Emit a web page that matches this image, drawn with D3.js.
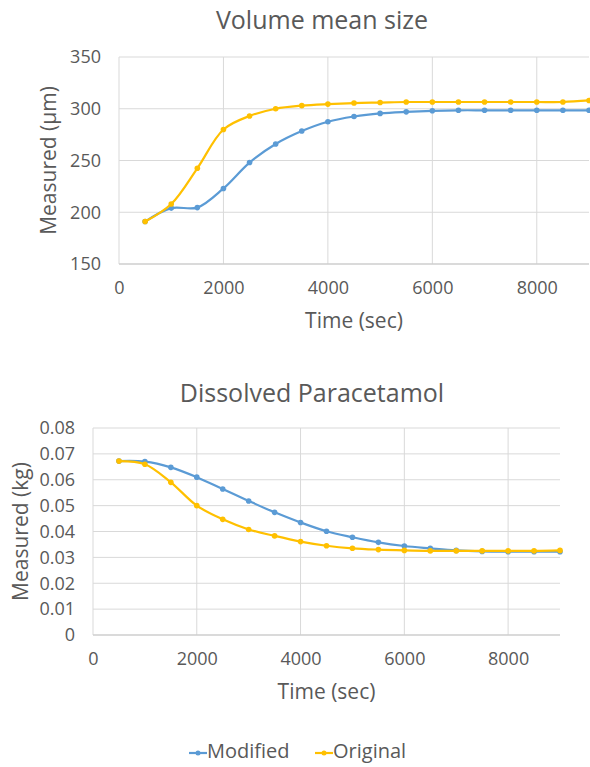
<!DOCTYPE html>
<html>
<head>
<meta charset="utf-8">
<script src="https://cdn.jsdelivr.net/npm/d3@7"></script>
<style>
  body { margin: 0; background: #fff; }
  svg text { font-family: "Open Sans", sans-serif; fill: #595959; }
  .axis path, .axis line { display: none; }
</style>
</head>
<body>
<svg id="chart" width="590" height="767"></svg>
<script>
const times = [500, 1000, 1500, 2000, 2500, 3000, 3500, 4000, 4500,
  5000, 5500, 6000, 6500, 7000, 7500, 8000, 8500, 9000];

const sizeModified = [191, 204, 204.5, 223, 248, 266, 278.5, 287.5, 292.5,
  295.5, 297, 298, 298.5, 298.5, 298.5, 298.5, 298.5, 298.5];
const sizeOriginal = [191, 208, 242.5, 280, 293, 300, 303, 304.5, 305.5,
  306, 306.5, 306.5, 306.5, 306.5, 306.5, 306.5, 306.5, 308];

const paraModified = [0.0672, 0.067, 0.0648, 0.061, 0.0564, 0.0518, 0.0474, 0.0435, 0.0401,
  0.0378, 0.0358, 0.0344, 0.0335, 0.0327, 0.0323, 0.0322, 0.0322, 0.0322];
const paraOriginal = [0.0672, 0.066, 0.059, 0.050, 0.0447, 0.0408, 0.0383, 0.0361, 0.0345,
  0.0335, 0.033, 0.0327, 0.0325, 0.0325, 0.0325, 0.0325, 0.0325, 0.0327];

const xTicks = [0, 2000, 4000, 6000, 8000];
const sizeTicks = [150, 200, 250, 300, 350];
const paraTicks = [0, 0.01, 0.02, 0.03, 0.04, 0.05, 0.06, 0.07, 0.08];

const colors = { Modified: "#5b9bd5", Original: "#ffc000" };

const svg = d3.select("#chart");

function drawPanel(opt) {
  const x = d3.scaleLinear().domain([0, 9000]).range([opt.left, opt.right]);
  const y = d3.scaleLinear().domain(opt.yDomain).range([opt.bottom, opt.top]);
  const g = svg.append("g");

  // grid
  g.selectAll(".hgrid").data(opt.yTicks).enter().append("line")
    .attr("x1", opt.left).attr("x2", opt.right)
    .attr("y1", d => y(d)).attr("y2", d => y(d))
    .attr("stroke", "#d9d9d9").attr("stroke-width", 1);
  g.selectAll(".vgrid").data(xTicks).enter().append("line")
    .attr("x1", d => x(d)).attr("x2", d => x(d))
    .attr("y1", opt.top).attr("y2", opt.bottom)
    .attr("stroke", "#d9d9d9").attr("stroke-width", 1);
  g.append("line")
    .attr("x1", opt.left).attr("x2", opt.right)
    .attr("y1", opt.bottom).attr("y2", opt.bottom)
    .attr("stroke", "#c8c8c8").attr("stroke-width", 1);

  // axes (labels only)
  g.append("g").attr("class", "axis")
    .attr("transform", `translate(0,${opt.bottom})`)
    .call(d3.axisBottom(x).tickValues(xTicks).tickSize(0).tickPadding(17).tickFormat(d3.format("d")))
    .selectAll("text").style("font-size", "18px").style("font-family", "Open Sans").attr("fill", "#595959");
  g.append("g").attr("class", "axis")
    .attr("transform", `translate(${opt.left},0)`)
    .call(d3.axisLeft(y).tickValues(opt.yTicks).tickSize(0).tickPadding(18).tickFormat(opt.fmt))
    .selectAll("text").style("font-size", "18px").style("font-family", "Open Sans").attr("fill", "#595959");

  // titles
  g.append("text").attr("x", opt.titleX).attr("y", opt.titleY)
    .attr("text-anchor", "middle").attr("dominant-baseline", "middle")
    .style("font-size", "25px").text(opt.title);
  g.append("text").attr("x", (opt.left + opt.right) / 2).attr("y", opt.bottom + 58)
    .attr("text-anchor", "middle").attr("dominant-baseline", "middle")
    .style("font-size", "21px").text("Time (sec)");
  g.append("text")
    .attr("transform", `translate(${opt.yTitleX},${(opt.top + opt.bottom) / 2}) rotate(-90)`)
    .attr("text-anchor", "middle").attr("dominant-baseline", "middle")
    .style("font-size", "21px").text(opt.yTitle);

  const line = d3.line()
    .x((d, i) => x(times[i]))
    .y(d => y(d))
    .curve(d3.curveCatmullRom.alpha(0.5));

  opt.series.forEach(s => {
    g.append("path").datum(s.values)
      .attr("fill", "none")
      .attr("stroke", colors[s.name])
      .attr("stroke-width", 2.2)
      .attr("d", line);
    g.selectAll(".dot-" + s.name).data(s.values).enter().append("circle")
      .attr("cx", (d, i) => x(times[i]))
      .attr("cy", d => y(d))
      .attr("r", 2.8)
      .attr("fill", colors[s.name]);
  });
}

drawPanel({
  left: 119, right: 589, top: 57, bottom: 264,
  yDomain: [150, 350], yTicks: sizeTicks, fmt: d3.format("d"),
  title: "Volume mean size", titleX: 322, titleY: 22,
  yTitle: "Measured (μm)", yTitleX: 50,
  series: [
    { name: "Modified", values: sizeModified },
    { name: "Original", values: sizeOriginal }
  ]
});

drawPanel({
  left: 93, right: 560, top: 428, bottom: 635,
  yDomain: [0, 0.08], yTicks: paraTicks, fmt: d => d === 0 ? "0" : d3.format(".2f")(d),
  title: "Dissolved Paracetamol", titleX: 312, titleY: 395,
  yTitle: "Measured (kg)", yTitleX: 22,
  series: [
    { name: "Modified", values: paraModified },
    { name: "Original", values: paraOriginal }
  ]
});

// legend
const legendItems = [
  { name: "Modified", x: 189 },
  { name: "Original", x: 315 }
];
const lg = svg.append("g");
legendItems.forEach(item => {
  lg.append("line")
    .attr("x1", item.x).attr("x2", item.x + 18)
    .attr("y1", 753).attr("y2", 753)
    .attr("stroke", colors[item.name]).attr("stroke-width", 2.2);
  lg.append("circle").attr("cx", item.x + 9).attr("cy", 753).attr("r", 2.5)
    .attr("fill", colors[item.name]);
  lg.append("text").attr("x", item.x + 18).attr("y", 753)
    .attr("dominant-baseline", "middle")
    .style("font-size", "20px").text(item.name);
});
</script>
</body>
</html>
